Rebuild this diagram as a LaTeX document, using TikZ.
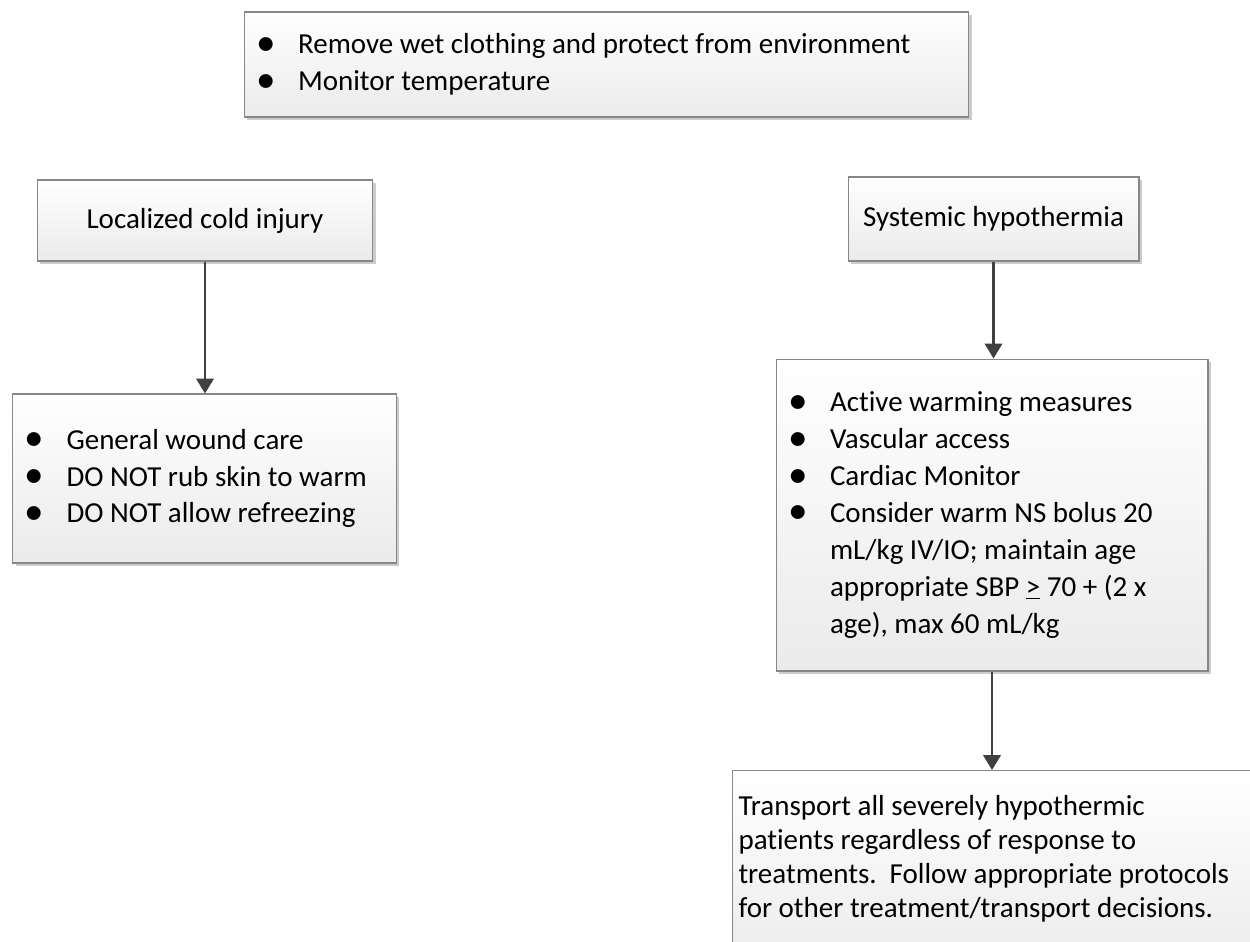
\documentclass[tikz,border=0pt]{standalone}
\usepackage{fontspec}
\setmainfont{Carlito}[Ligatures=NoCommon]
\usetikzlibrary{arrows.meta, shadows}

\newcommand{\bul}[1]{\makebox[0.84cm][l]{\raisebox{-0.05em}{\scalebox{1.35}{\textbullet}}}#1}
\newcommand{\cont}[1]{\hspace*{0.84cm}#1}

\begin{document}
\begin{tikzpicture}[x=0.02cm, y=-0.02cm,
  box/.style={draw=black!47, line width=0.6pt, top color=white, bottom color=black!8,
    drop shadow={shadow xshift=1.7pt, shadow yshift=-1.7pt, fill=black!20, opacity=1},
    font=\fontsize{16.5}{21}\selectfont, inner xsep=0.24cm, inner ysep=0pt},
  link/.style={draw=black!75, line width=1.2pt, -{Triangle[width=10pt,length=8.5pt]}}]
  \useasboundingbox (0,0) rectangle (1250,942);
  \clip (0,0) rectangle (1250,942);

  % first aid for everyone
  \node[box, text width=14.02cm, minimum height=2.1cm, align=flush left] (care) at (606.5,64.5)
    {\bul{Remove wet clothing and protect from environment}\\ \bul{Monitor temperature}\\[-0.12cm]};

  % the two branches
  \node[box, minimum width=6.72cm, minimum height=1.62cm] (local) at (205,220.5) {Localized cold injury};
  \node[box, minimum width=5.82cm, minimum height=1.68cm] (sys) at (993.5,219) {Systemic hypothermia};

  \node[box, text width=7.2cm, minimum height=3.38cm, align=flush left] (wound) at (204.5,478.5)
    {\bul{General wound care}\\ \bul{DO NOT rub skin to warm}\\ \bul{DO NOT allow refreezing}};
  \node[box, text width=8.16cm, minimum height=6.24cm, align=flush left] (warm) at (992,515)
    {\bul{Active warming measures}\\ \bul{Vascular access}\\ \bul{Cardiac Monitor}\\
     \bul{Consider warm NS bolus 20}\\ \cont{mL/kg IV/IO; maintain age}\\
     \cont{appropriate SBP \underline{>} 70 + (2 x}\\ \cont{age), max 60 mL/kg}};

  \node[box, anchor=north west, inner xsep=0.12cm, font=\fontsize{16.5}{19.4}\selectfont] (transport) at (732,770)
    {\parbox[c][4cm][t]{11cm}{\raggedright\vspace*{0.5cm}Transport all severely hypothermic\\
     patients regardless of response to\\ treatments.\ \ Follow appropriate protocols\\
     for other treatment/transport decisions.}};

  \draw[link] (local.south) -- (local.south |- wound.north);
  \draw[link] (sys.south) -- (sys.south |- warm.north);
  \draw[link] (warm.south) -- (warm.south |- transport.north);
\end{tikzpicture}
\end{document}
